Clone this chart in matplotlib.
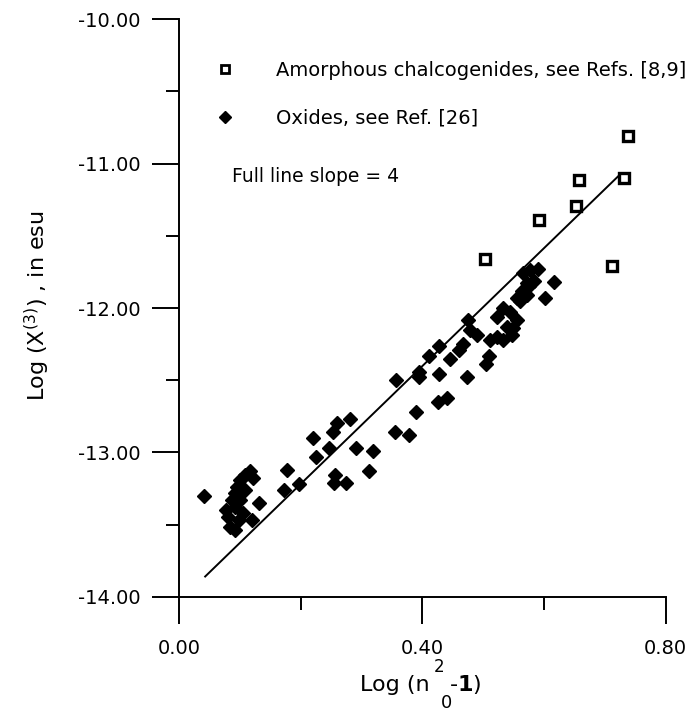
import matplotlib
matplotlib.use("Agg")
import matplotlib.pyplot as plt
from matplotlib.lines import Line2D
from matplotlib.ticker import MultipleLocator, FormatStrFormatter

plt.rcParams['font.family'] = ['DejaVu Sans']
plt.rcParams['mathtext.fontset'] = 'dejavusans'

# oxides, see Ref. [26]
ox = [0.041, 0.117, 0.109, 0.100, 0.095, 0.092, 0.087, 0.078, 0.092, 0.100,
      0.084, 0.092, 0.106, 0.120, 0.098, 0.081, 0.109, 0.122, 0.132, 0.178,
      0.173, 0.198, 0.221, 0.226, 0.246, 0.253, 0.259, 0.281, 0.291, 0.319,
      0.313, 0.257, 0.255, 0.274, 0.356, 0.394, 0.395, 0.411, 0.428, 0.428,
      0.445, 0.461, 0.467, 0.475, 0.479, 0.474, 0.490, 0.504, 0.510, 0.390,
      0.426, 0.441, 0.355, 0.378, 0.523, 0.533, 0.544, 0.555, 0.539, 0.523,
      0.533, 0.512, 0.547, 0.550, 0.560, 0.564, 0.572, 0.566, 0.577, 0.583,
      0.591, 0.572, 0.555, 0.616, 0.602, 0.575]
oy = [-13.30, -13.13, -13.16, -13.19, -13.24, -13.28, -13.33, -13.40, -13.38, -13.33,
      -13.52, -13.54, -13.42, -13.47, -13.47, -13.45, -13.26, -13.18, -13.35, -13.12,
      -13.26, -13.22, -12.90, -13.03, -12.97, -12.86, -12.80, -12.77, -12.97, -12.99,
      -13.13, -13.16, -13.21, -13.21, -12.50, -12.44, -12.48, -12.33, -12.26, -12.46,
      -12.35, -12.29, -12.25, -12.08, -12.15, -12.48, -12.19, -12.39, -12.33, -12.72,
      -12.65, -12.62, -12.86, -12.88, -12.06, -12.00, -12.03, -12.08, -12.13, -12.20,
      -12.22, -12.22, -12.19, -12.14, -11.95, -11.88, -11.83, -11.76, -11.74, -11.81,
      -11.73, -11.91, -11.93, -11.82, -11.93, -11.85]

# amorphous chalcogenides, see Refs. [8,9]
sx = [0.739, 0.731, 0.658, 0.652, 0.592, 0.503, 0.712]
sy = [-10.81, -11.10, -11.11, -11.29, -11.39, -11.66, -11.71]

# full line, slope 4
lx = [0.043, 0.724]
ly = [-13.86, -11.08]

fig = plt.figure(figsize=(6.88, 7.12), dpi=100)
ax = fig.add_axes([0.2602, 0.1619, 0.7071, 0.8110])

ax.plot(lx, ly, color='black', lw=1.4)
ax.plot(ox, oy, ls='none', marker='D', ms=7, color='black')
ax.plot(sx, sy, ls='none', marker='s', ms=7, mfc='white', mec='black', mew=2.4)

ax.set_xlim(0, 0.8)
ax.set_ylim(-14, -10)
ax.spines['top'].set_visible(False)
ax.spines['right'].set_visible(False)
for s in ('left', 'bottom'):
    ax.spines[s].set_linewidth(1.4)

ax.xaxis.set_major_locator(MultipleLocator(0.4))
ax.xaxis.set_minor_locator(MultipleLocator(0.2))
ax.yaxis.set_major_locator(MultipleLocator(1))
ax.yaxis.set_minor_locator(MultipleLocator(0.5))
ax.xaxis.set_major_formatter(FormatStrFormatter('%.2f'))
ax.yaxis.set_major_formatter(FormatStrFormatter('%.2f'))
ax.tick_params(axis='both', which='major', direction='out', length=19.4, width=1.4,
               labelsize=14)
ax.tick_params(axis='both', which='minor', direction='out', length=9.4, width=1.4)
ax.tick_params(axis='y', which='major', pad=8)
ax.tick_params(axis='x', which='major', pad=11)

ax.set_ylabel(r'Log (X$^{(3)}$) , in esu', fontsize=16)
ax.yaxis.set_label_coords(-0.262, 0.504)

# x label pieces: Log (n, super 2, sub 0, -1)
fig.text(430 / 688, 1 - 691 / 712, 'Log (n', ha='right', va='baseline', fontsize=16)
fig.text(439 / 688, 1 - 667 / 712, '2', ha='center', va='center', fontsize=12)
fig.text(446 / 688, 1 - 703 / 712, '0', ha='center', va='center', fontsize=13)
fig.text(449 / 688, 1 - 691 / 712, r'-$\mathbf{1}$)', ha='left', va='baseline', fontsize=16)

handles = [
    Line2D([], [], ls='none', marker='s', ms=5.5, mfc='white', mec='black', mew=2),
    Line2D([], [], ls='none', marker='D', ms=6.5, color='black'),
]
labels = ['Amorphous chalcogenides, see Refs. [8,9]', 'Oxides, see Ref. [26]']
ax.legend(handles, labels, loc='upper left', bbox_to_anchor=(215.3 / 688, 1 - 60.8 / 712),
          bbox_transform=fig.transFigure, frameon=False, fontsize=14,
          handlelength=1.0, handletextpad=2.1, labelspacing=1.48,
          borderpad=0, borderaxespad=0)

fig.text(232 / 688, 1 - 177 / 712, 'Full line slope = 4', ha='left', va='center', fontsize=13.5)

fig.savefig('out.png', dpi=100)
